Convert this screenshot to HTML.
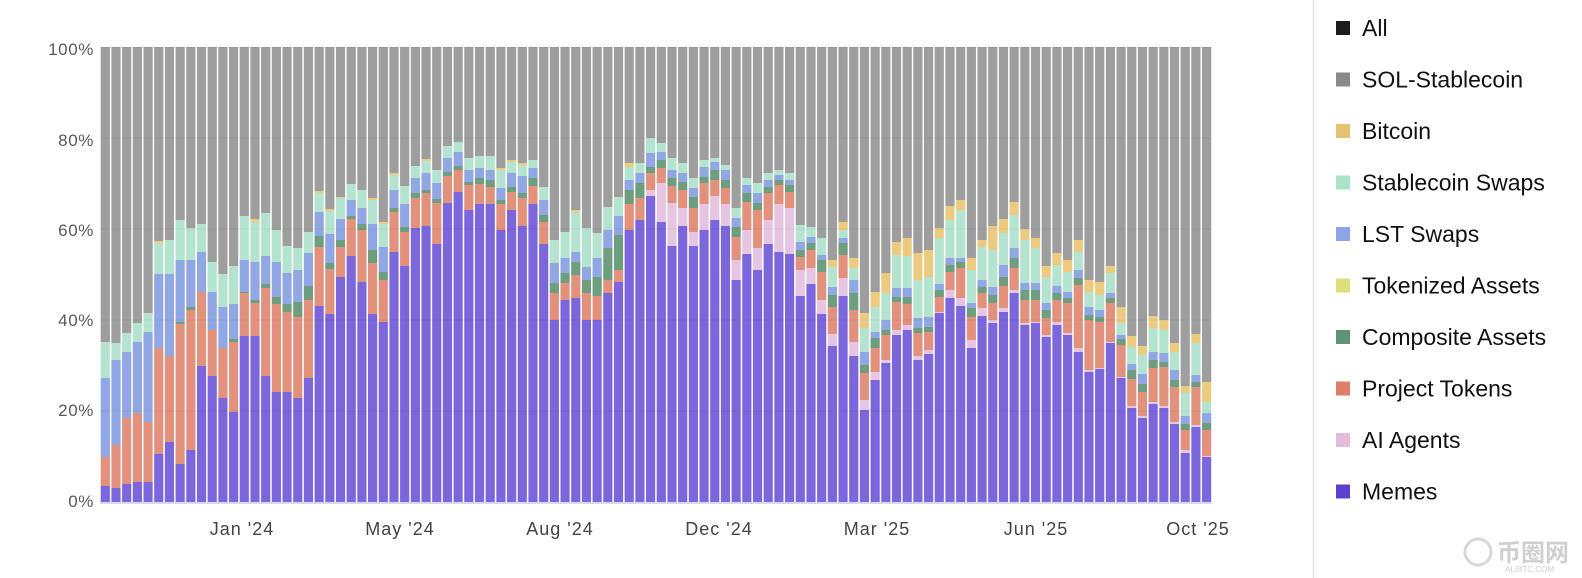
<!DOCTYPE html>
<html><head><meta charset="utf-8">
<style>
html,body{margin:0;padding:0;background:#fff;width:1582px;height:578px;overflow:hidden;font-family:"Liberation Sans","Noto Sans CJK SC",sans-serif;}
svg{position:absolute;left:0;top:0}
</style></head><body>
<svg id="c" width="1582" height="578" viewBox="0 0 1582 578" xmlns="http://www.w3.org/2000/svg">
<g id="bars"></g>
<g id="grid"></g>
<line x1="100" y1="503" x2="1212" y2="503" stroke="#dcd6f5" stroke-width="2"/>
<g font-size="17" fill="#5a5a5a" text-anchor="end" font-family="Liberation Sans, sans-serif" letter-spacing="0.6">
<text x="94" y="55">100%</text><text x="94" y="146">80%</text><text x="94" y="236">60%</text>
<text x="94" y="326">40%</text><text x="94" y="416">20%</text><text x="94" y="507">0%</text>
</g>
<g font-size="18" fill="#444" text-anchor="middle" font-family="Liberation Sans, sans-serif" letter-spacing="1">
<text x="242" y="535">Jan '24</text><text x="400" y="535">May '24</text><text x="560" y="535">Aug '24</text>
<text x="719" y="535">Dec '24</text><text x="877" y="535">Mar '25</text><text x="1036" y="535">Jun '25</text>
<text x="1198" y="535">Oct '25</text>
</g>
<line x1="1313.5" y1="0" x2="1313.5" y2="578" stroke="#e3e3e3" stroke-width="1.5"/>
<g id="legend" font-size="23" fill="#111" font-family="Liberation Sans, sans-serif"></g>
<g font-family="Liberation Sans, Noto Sans CJK SC, sans-serif">
<circle cx="1478" cy="552" r="13" fill="none" stroke="#d8d8d8" stroke-width="3"/>
<text x="1497" y="561" font-size="24" fill="#cfcfcf" font-weight="bold">币圈网</text>
<text x="1505" y="572" font-size="8" fill="#cfcfcf">ALIBTC.COM</text>
</g>
</svg>
<script>
var d=[
[486,486,457,457,378,342,342],[488,488,445,445,360,343,343],[484,484,418,418,352,333,333],[482,482,413,413,342,323,323],
[482,482,422,422,332,313,313],[454,454,348,348,274,243,241],[442,442,356,356,274,240,240],[464,464,324,322,260,220,220],
[450,450,310,307,260,228,228],[366,366,292,292,252,224,224],[376,376,330,330,292,262,262],[398,398,348,348,307,274,274],
[412,412,342,339,304,266,266],[336,336,293,292,260,216,216],[336,336,303,300,262,222,219],[376,376,288,284,256,213,213],
[392,392,304,297,262,230,230],[392,392,312,304,273,246,246],[398,398,317,302,270,248,248],[378,378,300,286,253,232,232],
[306,306,247,236,212,193,191],[314,314,269,263,234,211,209],[277,277,247,240,219,198,197],[256,256,219,216,200,184,184],
[282,282,230,224,208,190,190],[314,314,263,250,224,200,198],[322,322,280,272,247,224,222],[252,252,212,208,190,175,173],
[266,266,232,227,204,186,186],[228,228,198,193,178,166,166],[226,226,193,190,173,161,159],[244,244,203,199,183,170,170],
[203,203,176,172,158,146,146],[192,192,170,166,152,142,142],[210,210,185,182,170,158,158],[204,204,184,178,168,156,156],
[204,204,187,180,170,156,156],[230,230,204,200,188,170,168],[210,210,192,187,173,162,160],[226,226,198,193,176,165,163],
[204,204,186,178,168,160,160],[244,244,222,215,200,187,187],[320,320,293,283,263,240,240],[300,300,283,273,258,232,232],
[298,298,275,262,252,212,210],[320,320,293,280,267,228,228],[320,320,296,277,258,233,233],[293,293,280,248,230,207,207],
[282,282,270,235,216,197,197],[230,230,204,190,180,167,163],[220,220,198,183,173,163,163],[196,190,173,167,153,138,138],
[222,183,168,160,152,143,143],[246,203,186,178,170,158,158],[226,208,190,182,173,163,163],[246,232,208,197,188,178,178],
[230,204,183,177,167,160,160],[220,196,180,170,162,158,158],[226,204,188,180,170,165,165],[280,260,237,227,218,208,208],
[254,230,202,193,185,178,178],[270,248,210,203,193,183,183],[244,220,193,187,180,173,173],[252,204,185,180,175,170,170],
[254,208,192,185,180,173,173],[296,270,257,250,242,225,225],[284,268,250,243,237,227,227],[314,300,272,260,255,238,238],
[346,334,307,295,287,267,260],[296,278,255,243,238,230,222],[356,342,310,293,280,268,258],[410,400,373,365,352,328,313],
[380,372,348,338,332,307,292],[363,360,335,330,320,293,273],[335,330,302,297,288,255,242],[330,325,304,297,288,256,238],
[360,356,333,328,318,280,253],[354,350,332,327,317,277,250],[313,312,297,290,284,238,228],[298,290,272,265,258,220,206],
[306,298,268,262,258,210,200],[348,340,317,308,303,270,258],[316,308,293,287,280,247,240],[323,320,303,295,287,250,226],
[312,308,286,277,265,233,219],[293,290,268,258,248,215,202],[325,323,300,290,283,240,229],[323,322,300,290,283,248,238],
[337,335,318,310,303,277,266],[325,322,300,293,286,265,253],[335,333,303,298,292,272,260],[352,348,285,278,270,252,240],
[372,370,320,315,307,292,280],[369,368,322,317,310,295,282],[343,342,303,298,293,273,266],[378,377,345,339,335,323,307],
[408,406,379,370,364,347,336],[418,416,392,384,374,355,346],[404,402,368,360,352,328,316],[408,406,367,362,353,330,320],
[424,422,387,380,370,352,343],[453,450,430,424,416,393,386],[427,425,387,382,375,343,334],[457,456,430,423,413,402,382]];
var cols=["#7b66dc","#e6c5e3","#e2917d","#6e9e7e","#90a7e4","#b4e4d0","#eccb80"];
var g=document.getElementById("bars"),h="";
var pitch=(1212-100)/104;
for(var i=0;i<d.length;i++){
 var x=(100+i*pitch+0.7).toFixed(2),w=(pitch-1.5).toFixed(2),r=d[i],prev=502;
 h+='<rect x="'+x+'" y="47" width="'+w+'" height="'+(r[6]-47)+'" fill="#9e9e9e"/>';
 for(var k=0;k<7;k++){var t=r[k];if(prev-t>0)h+='<rect x="'+x+'" y="'+t+'" width="'+w+'" height="'+(prev-t)+'" fill="'+cols[k]+'"/>';prev=t;}
}
g.innerHTML=h;
var gh="";[47,138,229,320,411].forEach(function(y){gh+='<line x1="100" y1="'+y+'" x2="1212" y2="'+y+'" stroke="rgba(0,0,0,0.06)" stroke-width="1"/>';});
document.getElementById("grid").innerHTML=gh;
var L=[["All","#1c1c1c"],["SOL-Stablecoin","#8a8a8a"],["Bitcoin","#e6c172"],["Stablecoin Swaps","#a9e3c8"],["LST Swaps","#8ea6e8"],["Tokenized Assets","#dde07a"],["Composite Assets","#5e9473"],["Project Tokens","#de7f67"],["AI Agents","#e3bedb"],["Memes","#5b3fcf"]];
var lh="";L.forEach(function(it,j){var cy=28+j*51.5;lh+='<rect x="1336" y="'+(cy-7)+'" width="14" height="14" fill="'+it[1]+'"/><text x="1362" y="'+(cy+8)+'">'+it[0]+'</text>';});
document.getElementById("legend").innerHTML=lh;
</script>
</body></html>
